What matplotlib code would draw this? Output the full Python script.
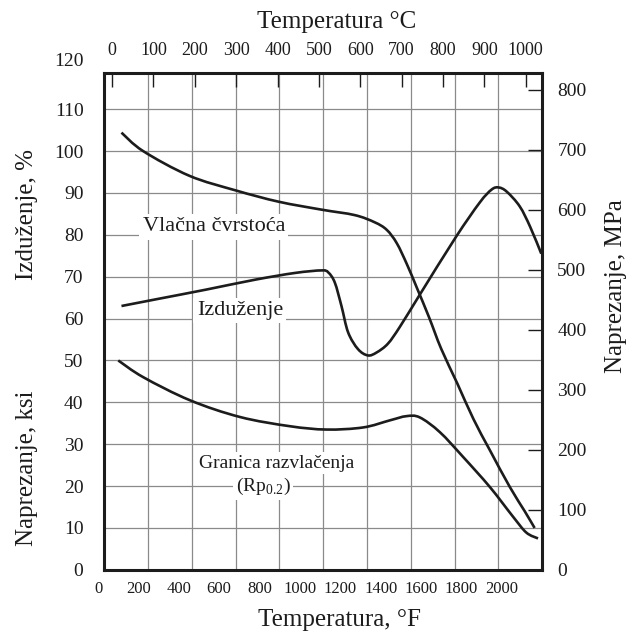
#!/usr/bin/env python3
# Mechanical properties vs temperature (F bottom, C top, ksi/% left, MPa right)

import numpy as np
import matplotlib
matplotlib.use("Agg")
import matplotlib.pyplot as plt
from matplotlib.path import Path
from matplotlib.patches import PathPatch

plt.rcParams['font.family'] = ['Liberation Serif', 'DejaVu Serif']
plt.rcParams['mathtext.fontset'] = 'custom'
plt.rcParams['mathtext.rm'] = 'Liberation Serif'

# Tick labels
F_TICKS = [0, 200, 400, 600, 800, 1000, 1200, 1400, 1600, 1800, 2000]
C_TICKS = [0, 100, 200, 300, 400, 500, 600, 700, 800, 900, 1000]
LEFT_TICKS = [0, 10, 20, 30, 40, 50, 60, 70, 80, 90, 100, 110, 120]
MPA_TICKS = [0, 100, 200, 300, 400, 500, 600, 700, 800]

# Vlacna cvrstoca (ksi)
ts_f = [116, 223, 452, 682, 895, 1108, 1272, 1370, 1430, 1480, 1530, 1580,
        1640, 1700, 1780, 1860, 1941, 2040, 2114, 2163]
ts_ksi = [104.4, 100.0, 94.1, 90.6, 87.9, 86.0, 84.7, 83.0, 81.2, 78.0, 73.0,
          67.3, 60.3, 52.8, 44.5, 36.0, 28.6, 19.8, 14.0, 10.0]

# Izduzenje (%)
el_f = [116, 287, 534, 780, 977, 1108, 1141, 1173, 1206, 1239, 1288, 1337,
        1380, 1436, 1495, 1594, 1772, 1891, 1950, 1985, 2025, 2089, 2141, 2196]
el_pct = [63.0, 64.6, 66.9, 69.3, 70.9, 71.5, 71.0, 68.6, 63.0, 56.7, 52.7,
          51.2, 51.9, 54.0, 58.0, 65.7, 79.4, 87.7, 90.8, 91.3, 90.3, 86.8,
          81.9, 75.5]

# Granica razvlacenja Rp0.2 (ksi)
ys_f = [100, 224, 455, 703, 950, 1132, 1313, 1446, 1528, 1594, 1693, 1808,
        1941, 2056, 2122, 2180]
ys_ksi = [50.0, 46.0, 40.5, 36.5, 34.3, 33.5, 34.0, 35.7, 36.7, 36.4, 32.9,
          27.0, 19.8, 12.7, 8.9, 7.5]

INK = '#1c1c1c'
GRID = '#8a8a8a'


def smooth_curve(ax, xs, ys, **kw):
    """Draw a curve through the points with Catmull-Rom style bezier segments."""
    p = np.column_stack([xs, ys]).astype(float)
    n = len(p)
    verts = [p[0]]
    codes = [Path.MOVETO]
    for i in range(n - 1):
        p0 = p[i - 1] if i > 0 else p[i]
        p3 = p[i + 2] if i + 2 < n else p[i + 1]
        verts += [p[i] + (p[i + 1] - p0) / 6, p[i + 1] - (p3 - p[i]) / 6, p[i + 1]]
        codes += [Path.CURVE4] * 3
    ax.add_patch(PathPatch(Path(verts, codes), fill=False, **kw))


fig = plt.figure(figsize=(6.4, 6.36), dpi=100)
ax = fig.add_axes([0.163, 0.104, 0.684, 0.781])

x_lo, x_hi = 31, 2200
ax.set_xlim(x_lo, x_hi)
ax.set_ylim(0, 118.6)

# grid: 10 equal columns, horizontal lines every 10 units
ax.set_xticks(np.linspace(x_lo, x_hi, 11))
ax.set_xticklabels([])
ax.set_yticks(LEFT_TICKS[:-1])
ax.set_yticklabels([str(v) for v in LEFT_TICKS[:-1]])
ax.tick_params(axis='x', length=0)
ax.tick_params(axis='y', length=0, pad=15, labelsize=14, colors=INK)
ax.grid(True, color=GRID, linewidth=0.9)
ax.set_axisbelow(True)

# labels that sit outside the view limits
ax.annotate(str(LEFT_TICKS[-1]), xy=(0, LEFT_TICKS[-1]), xycoords=('axes fraction', 'data'),
            xytext=(-15, 4), textcoords='offset points', ha='right', va='center',
            fontsize=14, color=INK, annotation_clip=False)
for f in F_TICKS:
    ax.annotate(str(f), xy=(f, 0), xycoords=('data', 'axes fraction'),
                xytext=(0, -14), textcoords='offset points', ha='center', va='center',
                fontsize=12, color=INK, annotation_clip=False)

for s in ax.spines.values():
    s.set_linewidth(2.2)
    s.set_color(INK)

# curves
for xs, ys in [(ts_f, ts_ksi), (el_f, el_pct), (ys_f, ys_ksi)]:
    smooth_curve(ax, xs, ys, edgecolor=INK, linewidth=1.9, capstyle='butt')

box = dict(boxstyle='square,pad=0.15', fc='white', ec='none')
ax.text(574, 81.9, 'Vlačna čvrstoća', fontsize=16, ha='center', va='center', color=INK, bbox=box)
ax.text(703, 61.9, 'Izduženje', fontsize=16, ha='center', va='center', color=INK, bbox=box)
ax.text(886, 25.5, 'Granica razvlačenja', fontsize=14, ha='center', va='center', color=INK, bbox=box)
ax.text(817, 19.8, r'(Rp$_{\mathrm{0.2}}$)', fontsize=14, ha='center', va='center', color=INK, bbox=box)

# right axis, MPa
ax_r = ax.twinx()
ax_r.set_ylim(0, 828)
ax_r.set_yticks(MPA_TICKS)
ax_r.tick_params(axis='y', direction='in', length=10, width=1.0, pad=11,
                 labelsize=14, colors=INK)
for s in ax_r.spines.values():
    s.set_visible(False)

# top axis, Celsius
ax_t = ax.twiny()
ax_t.set_xlim(-18.6, 1039.4)
ax_t.set_xticks(C_TICKS)
ax_t.tick_params(axis='x', direction='in', length=10, width=1.0, pad=10,
                 labelsize=13, colors=INK)
for s in ax_t.spines.values():
    s.set_visible(False)

fig.text(0.526, 0.966, 'Temperatura °C', fontsize=18, ha='center', va='center', color=INK)
fig.text(0.531, 0.025, 'Temperatura, °F', fontsize=18, ha='center', va='center', color=INK)
fig.text(0.042, 0.662, 'Izduženje, %', fontsize=18, rotation=90, ha='center', va='center', color=INK)
fig.text(0.042, 0.264, 'Naprezanje, ksi', fontsize=18, rotation=90, ha='center', va='center', color=INK)
fig.text(0.9625, 0.550, 'Naprezanje, MPa', fontsize=18, rotation=90, ha='center', va='center', color=INK)

fig.savefig('out.png', dpi=100, facecolor='white')
